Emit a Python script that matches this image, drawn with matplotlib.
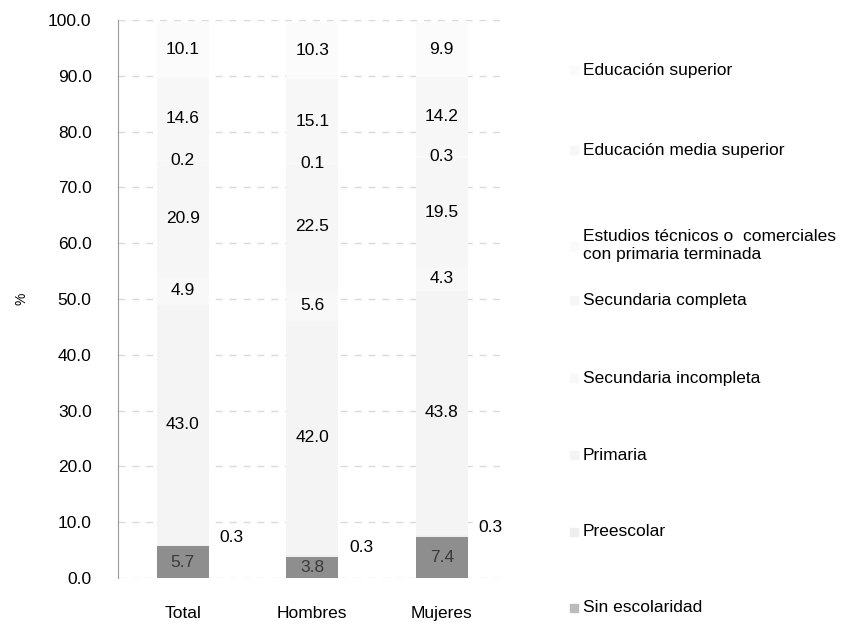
import matplotlib.pyplot as plt
from matplotlib.patches import Rectangle

plt.rcParams['font.family'] = ['Liberation Sans', 'DejaVu Sans']

groups = ['Total', 'Hombres', 'Mujeres']
levels = ['Sin escolaridad', 'Preescolar', 'Primaria', 'Secundaria incompleta',
          'Secundaria completa',
          'Estudios técnicos o  comerciales\ncon primaria terminada',
          'Educación media superior', 'Educación superior']

# values per level, order: Total, Hombres, Mujeres
sin_escolaridad = [5.7, 3.8, 7.4]
preescolar = [0.3, 0.3, 0.3]
primaria = [43.0, 42.0, 43.8]
secundaria_incompleta = [4.9, 5.6, 4.3]
secundaria_completa = [20.9, 22.5, 19.5]
estudios_tecnicos = [0.2, 0.1, 0.3]
media_superior = [14.6, 15.1, 14.2]
superior = [10.1, 10.3, 9.9]

series = [sin_escolaridad, preescolar, primaria, secundaria_incompleta,
          secundaria_completa, estudios_tecnicos, media_superior, superior]
colors = ['#8e8e8e', '#eeeeee', '#f4f4f4', '#f8f8f8',
          '#f6f6f6', '#fafafa', '#f7f7f7', '#fbfbfb']

# legend text rows (figure fraction from top), the original spreads them unevenly
legend_y = [608, 532, 455, 378, 300, 246, 150, 70]

W, H = 841, 624
fig = plt.figure(figsize=(W / 100, H / 100), dpi=100)
ax = fig.add_axes([118 / W, 1 - 578 / H, 382 / W, 558 / H])

x = range(len(groups))
width = 0.40
bottom = [0.0, 0.0, 0.0]
for i, (vals, col) in enumerate(zip(series, colors)):
    bars = ax.bar(x, vals, width, bottom=bottom, color=col, edgecolor='none',
                  label=levels[i], zorder=2)
    for j, b in enumerate(bars):
        v = vals[j]
        if i == 1:
            # Preescolar labels beside the bar
            ax.annotate(f'{v:.1f}', xy=(b.get_x() + b.get_width(), bottom[j] + v),
                        xytext=(8, 0), textcoords='offset points',
                        ha='left', va='bottom', fontsize=12.5)
        else:
            ax.text(b.get_x() + b.get_width() / 2, bottom[j] + v / 2, f'{v:.1f}',
                    ha='center', va='center', fontsize=12.5,
                    color='#3a3a3a' if i == 0 else 'black', zorder=3)
    bottom = [b + v for b, v in zip(bottom, vals)]

ax.set_xlim(-0.50, 2.45)
ax.set_ylim(0, 100)
ax.set_yticks(range(0, 101, 10))
ax.set_yticklabels([f'{t:.1f}' for t in range(0, 101, 10)])
ax.set_xticks(list(x))
ax.set_xticklabels(groups)
ax.tick_params(axis='y', length=0, pad=19, labelsize=12.5)
ax.tick_params(axis='x', length=0, pad=20, labelsize=12.5)
ax.set_ylabel('%', fontsize=10, labelpad=14)

ax.set_axisbelow(True)
ax.grid(axis='y', linestyle=(0, (5, 5)), color='#dadada', linewidth=1)
for s in ['top', 'right', 'bottom']:
    ax.spines[s].set_visible(False)
ax.spines['left'].set_color('#9a9a9a')

# legend: small swatches and labels on the right
for lab, col, yy in zip(levels, colors, legend_y):
    fig.text(583 / W, 1 - yy / H, lab, ha='left', va='center', fontsize=12.5,
             linespacing=1.25)
    fig.patches.append(Rectangle((570 / W, 1 - (yy + 4) / H), 8 / W, 8 / H,
                                 transform=fig.transFigure,
                                 color='#bbbbbb' if col == colors[0] else col))

fig.savefig('out.png', dpi=100)
